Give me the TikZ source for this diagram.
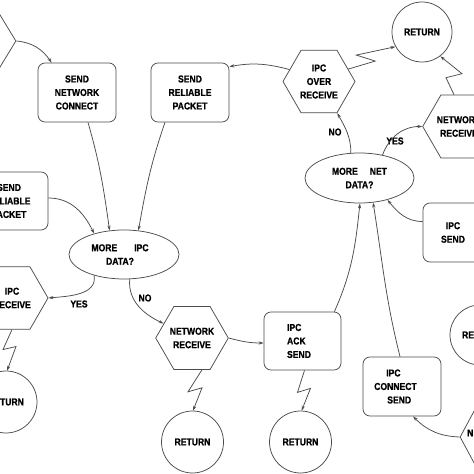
\documentclass[tikz,border=0pt]{standalone}
\usepackage{fontspec}
\setmainfont{Liberation Sans}[FakeStretch=0.86, BoldFeatures={FakeBold=0.8}]
\usetikzlibrary{shapes.geometric,arrows.meta,calc}
\tikzset{
  every node/.style={font=\bfseries\fontsize{10}{13.5}\selectfont, align=center, inner sep=0pt, text=black},
  shp/.style={draw=black!70, line width=0.75pt},
  box/.style={shp, rectangle, rounded corners=7pt, minimum width=78pt, minimum height=59pt},
  hexa/.style={shp, regular polygon, regular polygon sides=6, minimum size=72pt},
  oval/.style={shp, ellipse},
  ret/.style={shp, circle},
  dia/.style={shp, diamond},
  conn/.style={draw=black!70, line width=0.75pt, -{Stealth[length=5pt,width=3.2pt]}}
}
\begin{document}
\begin{tikzpicture}[x=1pt,y=1pt]
\useasboundingbox[fill=white] (0,0) rectangle (474,474);
% nodes
\node[dia, minimum width=56pt, minimum height=92pt] (dTL) at (-12,433) {};
\node[box] (snc) at (77,381.5) {SEND\\NETWORK\\CONNECT};
\node[box] (srp) at (190,381.5) {SEND\\RELIABLE\\PACKET};
\node[box, minimum height=58pt] (srpL) at (9,273) {SEND\\RELIABLE\\PACKET};
\node[hexa] (ipcover) at (319,392.5) {IPC\\OVER\\RECEIVE};
\node[ret, minimum size=60pt] (retTR) at (422,442) {RETURN};
\node[hexa] (netrecR) at (459,347.5) {NETWORK\\RECEIVE};
\node[oval, minimum width=109pt, minimum height=50pt] (morenet) at (359.5,296) {MORE\hspace{12pt}NET\\DATA?};
\node[box, minimum width=60pt] (ipcsend) at (453,241.5) {IPC\\SEND};
\node[oval, minimum width=110pt, minimum height=49pt] (moreipc) at (124,219.5) {MORE\hspace{17pt}IPC\makebox[8pt]{}\\DATA?\makebox[8pt]{}};
\node[hexa] (ipcrecL) at (12,176) {IPC\\RECEIVE};
\node[hexa] (netrecB) at (192,136) {NETWORK\\RECEIVE};
\node[box, minimum width=77pt, minimum height=58pt, align=left] (ipcack) at (302.5,133) {IPC\\ACK\\SEND\makebox[7pt]{}};
\node[ret, minimum size=60pt] (retRM) at (480,139) {RETURN};
\node[box, align=left] (ipcconn) at (402,87.5) {\makebox[12pt]{}IPC\\CONNECT\makebox[13pt]{}\\\makebox[13pt]{}SEND};
\node[dia, minimum width=56pt, minimum height=104pt] (dBR) at (488,37) {};
\node[anchor=west] (dBRtxt) at (467,41) {N};
\node[ret, minimum size=62pt] (retBL) at (6,72) {RETURN};
\node[ret, minimum size=62pt] (retB1) at (192.5,32) {RETURN};
\node[ret, minimum size=62pt] (retB2) at (300.5,32) {RETURN};
% labels
\node (yes1) at (79,170) {YES};
\node (no1) at (145,176) {NO};
\node (no2) at (335,342) {NO};
\node (yes2) at (395,333) {YES};
% connectors
\draw[conn] (dTL.east) to[out=-5,in=125] ($(snc.north west)+(14,0)$);
\draw[conn] ($(snc.south)+(11,0)$) to[out=-74,in=98] (moreipc.121);
\draw[conn] ($(srp.south)+(-25,0)$) to[out=-109,in=80] (moreipc.59);
\draw[conn] ($(srpL.east)+(0,3)$) to[out=0,in=116] (moreipc.145);
\draw[conn] (moreipc.215) to[out=-80,in=5] (ipcrecL.east);
\draw[conn] (moreipc.-77) to[out=-95,in=155] (netrecB.153);
\draw[conn] (netrecB.east) to[out=-15,in=180] ($(ipcack.west)+(0,-2)$);
\draw[conn] ($(ipcack.north east)+(-7,0)$) to[out=66,in=-96] (morenet.-89);
\draw[conn] ($(ipcconn.north)+(-2,0)$) to[out=104,in=-81] (morenet.-61);
\draw[conn] ($(ipcsend.west)+(0,11)$) to[out=180,in=-51] (morenet.-38);
\draw[conn] (dBR.west) to[out=178,in=-45] ($(ipcconn.south)+(11,0)$);
\draw[conn] (morenet.109) to[out=90,in=-61] (ipcover.-60);
\draw[conn] (morenet.45) to[out=70,in=180] (netrecR.west);
\draw[conn] (ipcover.158) to[out=165,in=10] ($(srp.north east)+(0,-4)$);
% zigzag connectors
\draw[conn] (ipcover.23) -- ++(27,8) -- ++(-19,6) -- (retTR.209);
\draw[conn] ($(netrecR.north)+(-5,0)$) -- ++(-8,17) -- ++(16,4) -- (retTR.-53);
\draw[conn] (ipcrecL.south) -- ++(-9,-20) -- ++(13,3) -- (retBL.88);
\draw[conn] ($(netrecB.south)+(10,0)$) -- ++(-14,-22) -- ++(14,4) -- (retB1.89);
\draw[conn] ($(ipcack.south)+(2,0)$) -- ++(-7,-22) -- ++(13,4) -- (retB2.88);
\end{tikzpicture}
\end{document}
